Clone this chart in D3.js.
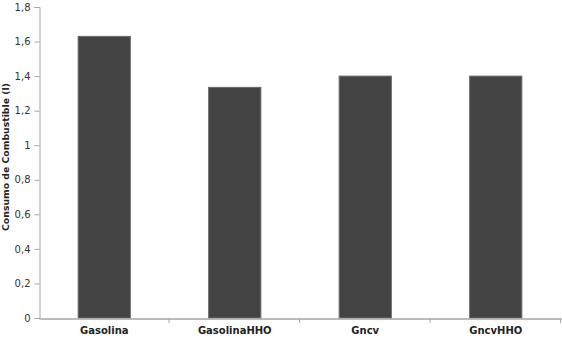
<!DOCTYPE html>
<html>
<head>
<meta charset="utf-8">
<script src="https://cdn.jsdelivr.net/npm/d3@7"></script>
<style>
  html, body { margin: 0; padding: 0; background: #fff; }
  svg { display: block; }
</style>
</head>
<body>
<div id="chart"></div>
<script>
const categories = ["Gasolina", "GasolinaHHO", "Gncv", "GncvHHO"];
const consumo = [1.63, 1.335, 1.40, 1.40];
const yTicks = [0, 0.2, 0.4, 0.6, 0.8, 1, 1.2, 1.4, 1.6, 1.8];

const w = 562;
const h = 339;
const margin = { top: 7, right: 1, bottom: 21, left: 39 };

const data = categories.map((c, i) => ({ cat: c, value: consumo[i] }));

const svg = d3.select("#chart").append("svg")
    .attr("width", w)
    .attr("height", h);

const x = d3.scaleBand()
    .domain(categories)
    .range([margin.left, w - margin.right])
    .paddingInner(0.6)
    .paddingOuter(0.3);

const xOuter = d3.scaleBand()
    .domain(categories)
    .range([margin.left, w - margin.right]);

const y = d3.scaleLinear()
    .domain([0, 1.8])
    .range([h - margin.bottom, margin.top]);

const fmt = d => d3.format("")(+d.toFixed(1)).replace(".", ",");

// y axis
const yAxis = svg.append("g")
    .attr("transform", `translate(${margin.left + 0.5},0)`)
    .call(d3.axisLeft(y).tickValues(yTicks).tickSize(5).tickPadding(4).tickFormat(fmt));
yAxis.select(".domain").attr("stroke", "#a6a6a6");
yAxis.selectAll(".tick line").attr("stroke", "#a6a6a6");
yAxis.selectAll("text")
    .attr("font-family", "DejaVu Sans, Verdana, sans-serif")
    .attr("font-size", 10)
    .attr("fill", "#333");

// bars
svg.selectAll("rect.bar")
    .data(data)
    .enter()
    .append("rect")
    .attr("class", "bar")
    .attr("x", d => x(d.cat))
    .attr("y", d => y(d.value))
    .attr("width", x.bandwidth())
    .attr("height", d => y(0) - y(d.value))
    .attr("fill", "#434343")
    .attr("stroke", "#6a6a6a")
    .attr("stroke-width", 1);

// x axis
const xAxis = svg.append("g")
    .attr("transform", `translate(0,${h - margin.bottom + 0.5})`)
    .call(d3.axisBottom(xOuter).tickSize(0).tickPadding(8));
xAxis.select(".domain").attr("stroke", "#a6a6a6").attr("stroke-width", 1.5);
xAxis.selectAll("text")
    .attr("font-family", "DejaVu Sans, Verdana, sans-serif")
    .attr("font-size", 10)
    .attr("font-weight", "bold")
    .attr("fill", "#222");

// category boundary ticks
svg.selectAll("line.xtick")
    .data(categories)
    .enter()
    .append("line")
    .attr("class", "xtick")
    .attr("x1", d => xOuter(d) + xOuter.bandwidth() - 0.5)
    .attr("x2", d => xOuter(d) + xOuter.bandwidth() - 0.5)
    .attr("y1", y(0))
    .attr("y2", y(0) + 5)
    .attr("stroke", "#a6a6a6");

// y label
svg.append("text")
    .attr("transform", "rotate(-90)")
    .attr("x", -157)
    .attr("y", 9)
    .attr("text-anchor", "middle")
    .attr("font-family", "DejaVu Sans, Verdana, sans-serif")
    .attr("font-size", 9.3)
    .attr("font-weight", "bold")
    .attr("fill", "#222")
    .text("Consumo de Combustible (l)");
</script>
</body>
</html>
